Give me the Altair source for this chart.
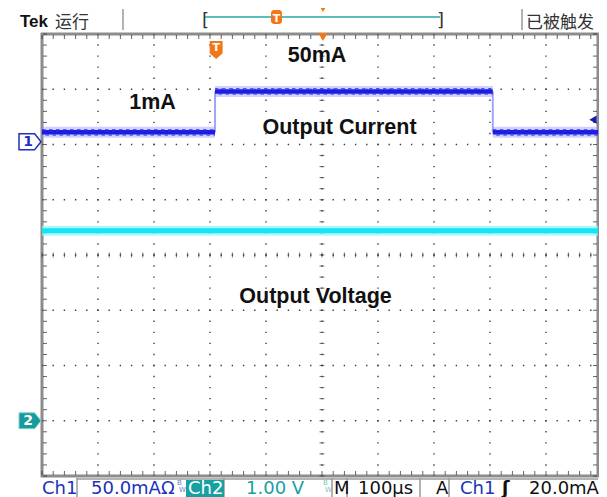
import altair as alt
import pandas as pd

# ---------------- values (graticule divisions: time 0..10, screen 0..8) ----------------
ch1_edges = [0.0, 3.09, 8.05, 10.0]      # segment boundaries of the current trace
ch1_levels = [6.22, 6.96, 6.22]          # current trace level per segment
ch2_edges = [0.0, 10.0]
ch2_levels = [4.44]                      # output voltage trace
ch1_ground = 6.05
ch2_ground = 1.0
trigger_time = 3.11
trigger_level = 6.45

annot_text = ["50mA", "1mA", "Output Current", "Output Voltage"]
annot_x = [4.911, 1.973, 5.313, 4.884]
annot_y = [7.49, 6.64, 6.19, 3.13]

major_x = list(range(1, 10))
major_y = list(range(1, 8))

W, H = 556, 442
PX_PER_DIV = 56
XMAX = W / PX_PER_DIV
minor_x = [i / 5 for i in range(0, 51) if i / 5 <= XMAX]
minor_y = [i / 5 for i in range(0, 41)]

XS = alt.Scale(domain=[0, XMAX], nice=False, zero=False)
YS = alt.Scale(domain=[0, 8], nice=False, zero=False)


def X(f):
    return alt.X(f, type="quantitative", scale=XS, axis=None)


def Y(f):
    return alt.Y(f, type="quantitative", scale=YS, axis=None)


dummy = pd.DataFrame({"d": [0]})
layers = []

# ---------------- graticule ----------------
GRID = "#3c3c3c"
layers.append(alt.Chart(pd.DataFrame({"x": major_x})).mark_rule(
    color=GRID, strokeWidth=1.4, strokeDash=[1.4, H / 40 - 1.4], strokeDashOffset=0.7
).encode(x=X("x"), y=alt.value(0), y2=alt.value(H)))
layers.append(alt.Chart(pd.DataFrame({"y": major_y})).mark_rule(
    color=GRID, strokeWidth=1.4, strokeDash=[1.4, PX_PER_DIV / 5 - 1.4], strokeDashOffset=0.7
).encode(y=Y("y"), x=alt.value(0), x2=alt.value(W)))
# centre-line ticks
layers.append(alt.Chart(pd.DataFrame({"y": minor_y, "c": 5})).mark_tick(
    orient="horizontal", size=5, thickness=1, color=GRID).encode(x=X("c"), y=Y("y")))
layers.append(alt.Chart(pd.DataFrame({"x": minor_x, "c": 4})).mark_tick(
    orient="vertical", size=5, thickness=1, color=GRID).encode(x=X("x"), y=Y("c")))
# border ticks
layers.append(alt.Chart(pd.DataFrame({"x": minor_x, "c": 8})).mark_tick(
    orient="vertical", size=4, thickness=1, color="#222", yOffset=3).encode(x=X("x"), y=Y("c")))
layers.append(alt.Chart(pd.DataFrame({"x": minor_x, "c": 0})).mark_tick(
    orient="vertical", size=4, thickness=1, color="#222", yOffset=-3).encode(x=X("x"), y=Y("c")))
layers.append(alt.Chart(pd.DataFrame({"y": minor_y, "c": 0})).mark_tick(
    orient="horizontal", size=4, thickness=1, color="#222", xOffset=3).encode(x=X("c"), y=Y("y")))
layers.append(alt.Chart(pd.DataFrame({"y": minor_y, "c": XMAX})).mark_tick(
    orient="horizontal", size=4, thickness=1, color="#222", xOffset=-3).encode(x=X("c"), y=Y("y")))

# ---------------- traces ----------------
ch2 = pd.DataFrame({"s": ch2_edges[:-1], "e": [min(v, XMAX) for v in ch2_edges[1:]], "v": ch2_levels})
layers.append(alt.Chart(ch2).mark_rule(color="#8ff3fa", strokeWidth=10, opacity=0.7).encode(
    x=X("s"), x2="e", y=Y("v")))
layers.append(alt.Chart(ch2).mark_rule(color="#12e6f2", strokeWidth=5).encode(
    x=X("s"), x2="e", y=Y("v")))

ch1 = pd.DataFrame({"s": ch1_edges[:-1], "e": [min(v, XMAX) for v in ch1_edges[1:]], "v": ch1_levels})
steps = pd.DataFrame({"t": ch1_edges[1:-1],
                      "a": [min(ch1_levels[i], ch1_levels[i + 1]) for i in range(len(ch1_levels) - 1)],
                      "b": [max(ch1_levels[i], ch1_levels[i + 1]) for i in range(len(ch1_levels) - 1)]})
layers.append(alt.Chart(steps).mark_rule(color="#a4a4f6", strokeWidth=2).encode(
    x=X("t"), y=Y("a"), y2="b"))
layers.append(alt.Chart(ch1).mark_rule(color="#8c8cff", strokeWidth=11, opacity=0.4).encode(
    x=X("s"), x2="e", y=Y("v")))
layers.append(alt.Chart(ch1).mark_rule(color="#1c1ce2", strokeWidth=4.5).encode(
    x=X("s"), x2="e", y=Y("v")))
layers.append(alt.Chart(ch1).mark_rule(color="#3a3aee", strokeWidth=1.6, opacity=0.8,
                                       strokeDash=[3.5, 3.5], yOffset=-2.6).encode(
    x=X("s"), x2="e", y=Y("v")))
layers.append(alt.Chart(ch1).mark_rule(color="#3a3aee", strokeWidth=1.6, opacity=0.8,
                                       strokeDash=[3.5, 3.5], strokeDashOffset=3.5, yOffset=2.6).encode(
    x=X("s"), x2="e", y=Y("v")))

# ---------------- annotations ----------------
ann = pd.DataFrame({"t": annot_text, "x": annot_x, "y": annot_y})
layers.append(alt.Chart(ann).mark_text(font="Liberation Sans", fontWeight="bold", fontSize=21.5,
                                       baseline="alphabetic", align="center", color="#111").encode(
    x=X("x"), y=Y("y"), text="t:N"))

# ---------------- channel / trigger markers ----------------
PENT_R = "M-1,-0.72L0.42,-0.72L1,0L0.42,0.72L-1,0.72Z"
PENT_D = "M-0.72,-1L0.72,-1L0.72,0.35L0,1L-0.72,0.35Z"
g1 = pd.DataFrame({"g": [ch1_ground]})
g2 = pd.DataFrame({"g": [ch2_ground]})
layers.append(alt.Chart(g1).mark_point(shape=PENT_R, size=484, filled=True, fill="white",
                                       stroke="#2030c0", strokeWidth=1.5, opacity=1).encode(
    x=alt.value(-12), y=Y("g")))
layers.append(alt.Chart(g1).mark_text(text="1", font="DejaVu Sans", fontWeight="bold", fontSize=14,
                                      color="#2030c0").encode(x=alt.value(-14), y=Y("g")))
layers.append(alt.Chart(g2).mark_point(shape=PENT_R, size=484, filled=True, fill="#169c9c",
                                       stroke="#7fd0d0", strokeWidth=1, opacity=1).encode(
    x=alt.value(-12), y=Y("g")))
layers.append(alt.Chart(g2).mark_text(text="2", font="DejaVu Sans", fontWeight="bold", fontSize=14,
                                      color="white").encode(x=alt.value(-14), y=Y("g")))
tt = pd.DataFrame({"t": [trigger_time], "l": [trigger_level]})
layers.append(alt.Chart(tt).mark_point(shape=PENT_D, size=324, filled=True, color="#f07818",
                                       opacity=1).encode(x=X("t"), y=alt.value(16)))
layers.append(alt.Chart(tt).mark_text(text="T", font="DejaVu Sans", fontWeight="bold", fontSize=11,
                                      color="white").encode(x=X("t"), y=alt.value(14)))
layers.append(alt.Chart(tt).mark_point(shape="triangle-left", size=70, filled=True, color="#1a1ab4",
                                       opacity=1).encode(x=alt.value(W - 5), y=Y("l")))
layers.append(alt.Chart(dummy).mark_point(shape="triangle-down", size=90, filled=True,
                                          color="#f07818", opacity=1).encode(
    x=alt.value(5 * PX_PER_DIV + 1), y=alt.value(3)))


# ---------------- status bars ----------------
def txt(s, x, y, color="#111", size=18, font="DejaVu Sans", weight="normal", align="left"):
    return alt.Chart(dummy).mark_text(text=s, font=font, fontSize=size, fontWeight=weight,
                                      color=color, align=align, baseline="alphabetic").encode(
        x=alt.value(x), y=alt.value(y))


def vline(x, y1, y2, color="#9a9a9a", w=1.5):
    return alt.Chart(dummy).mark_rule(color=color, strokeWidth=w).encode(
        x=alt.value(x), y=alt.value(y1), y2=alt.value(y2))


# header
layers.append(txt("Tek", -22, -7, size=17, font="Liberation Sans", weight="bold"))
layers.append(txt("运行", 13, -6, color="#333", size=17, font="Noto Sans CJK SC"))
layers.append(vline(81, -25, -4))
layers.append(alt.Chart(dummy).mark_rule(color="#2aa6a6", strokeWidth=1.5).encode(
    x=alt.value(163), x2=alt.value(398), y=alt.value(-17)))
layers.append(txt("[", 160, -8, color="#333", size=18))
layers.append(txt("]", 395, -8, color="#333", size=18))
layers.append(alt.Chart(dummy).mark_rect(color="#f07818", cornerRadius=3).encode(
    x=alt.value(229), x2=alt.value(240), y=alt.value(-24), y2=alt.value(-10)))
layers.append(txt("T", 234.5, -12, color="white", size=11, weight="bold", align="center"))
layers.append(alt.Chart(dummy).mark_point(shape="triangle-down", size=50, filled=True,
                                          color="#f07818", opacity=1).encode(
    x=alt.value(5 * PX_PER_DIV + 1), y=alt.value(-25)))
layers.append(vline(480, -25, -4))
layers.append(txt("已被触发", 484, -6, color="#333", size=17, font="Noto Sans CJK SC"))

# readout
BLUE = "#2032b8"
TEAL = "#17a0a0"
layers.append(alt.Chart(dummy).mark_rule(color="#b4b4b4", strokeWidth=2).encode(
    x=alt.value(35), x2=alt.value(W), y=alt.value(445)))
for sx in [35, 182, 290, 305, 378, 407]:
    layers.append(vline(sx, 444, 463))
layers.append(alt.Chart(dummy).mark_rect(color=TEAL).encode(
    x=alt.value(144), x2=alt.value(182), y=alt.value(446), y2=alt.value(463)))
BL = 460
layers.append(txt("Ch1", 0, BL, color=BLUE))
layers.append(txt("50.0mAΩ", 49, BL, color=BLUE))
layers.append(txt("B", 135, 451, color="#6a7ec8", size=7))
layers.append(txt("W", 137, 458, color="#6a7ec8", size=7))
layers.append(txt("Ch2", 146, BL, color="white"))
layers.append(txt("1.00 V", 204, BL, color=TEAL))
layers.append(txt("B", 281, 451, color="#7fbfc8", size=7))
layers.append(txt("W", 283, 458, color="#7fbfc8", size=7))
layers.append(txt("M", 292, BL))
layers.append(txt("100µs", 316, BL))
layers.append(txt("A", 394, BL))
layers.append(txt("Ch1", 418, BL, color=BLUE))
layers.append(txt("ʃ", 460, BL, weight="bold"))
layers.append(txt("20.0mA", 487, BL))

chart = alt.layer(*layers).properties(
    width=W, height=H,
    autosize=alt.AutoSizeParams(type="none"),
    padding={"left": 34, "top": 26, "right": 1, "bottom": 21},
    background="white",
).configure_view(stroke="#8c8c8c", strokeWidth=3)

chart.save("out.html", embed_options={"renderer": "svg", "actions": False})
